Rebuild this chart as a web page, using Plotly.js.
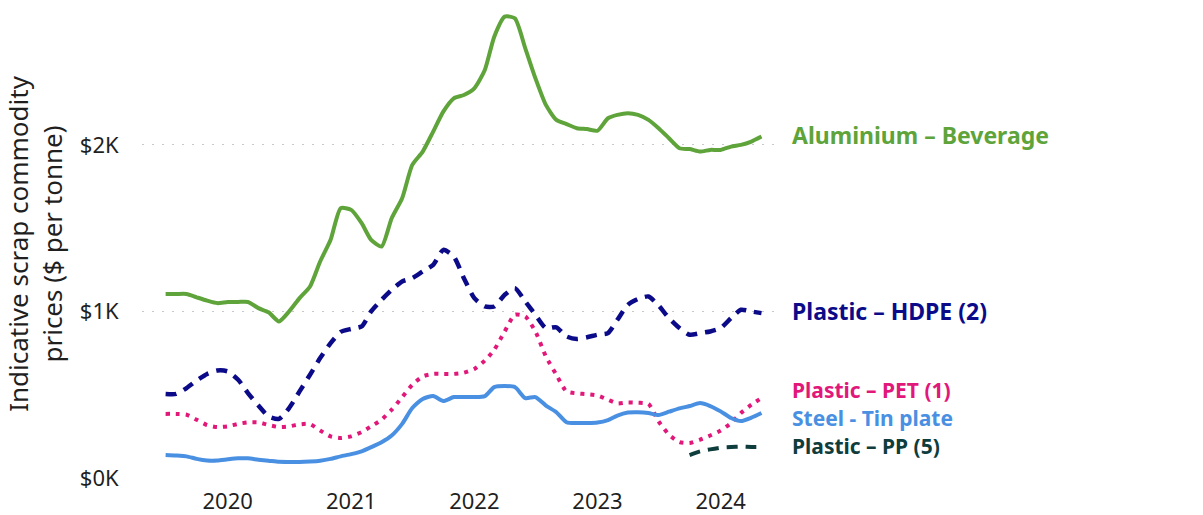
<!DOCTYPE html>
<html>
<head>
<meta charset="utf-8">
<script src="https://cdn.plot.ly/plotly-3.0.1.min.js"></script>
<style>
  html, body { margin: 0; padding: 0; background: #ffffff; }
  #chart { width: 1203px; height: 515px; }
</style>
</head>
<body>
<div id="chart"></div>
<script>
// Monthly observations, July 2019 through May 2024
const firstMonth = [2019, 7];
const monthCount = 59;

const aluminiumBeverage = [
  1105, 1105, 1105, 1085, 1065, 1050,
  1057, 1057, 1057, 1020, 995, 940, 1000, 1080, 1150, 1300, 1430, 1620,
  1610, 1530, 1430, 1390, 1560, 1680, 1880, 1960, 2080, 2200, 2280, 2300,
  2340, 2450, 2650, 2770, 2760, 2580, 2400, 2240, 2150, 2125, 2100, 2095,
  2085, 2160, 2180, 2190, 2180, 2150, 2100, 2040, 1980, 1975, 1960, 1970,
  1970, 1990, 2000, 2020, 2050
];

const plasticHDPE = [
  505, 505, 540, 585, 625, 645,
  640, 590, 510, 435, 370, 355, 420, 520, 620, 720, 810, 877,
  895, 910, 1000, 1070, 1130, 1180, 1200, 1240, 1280, 1370, 1330, 1200,
  1080, 1030, 1030, 1100, 1140, 1060, 980, 900, 905, 850, 835, 845,
  860, 870, 950, 1040, 1075, 1090, 1035, 960, 900, 860, 870, 880,
  900, 960, 1010, 1000, 990
];

const plasticPET = [
  385, 385, 380, 350, 318, 306,
  310, 325, 334, 334, 318, 306, 310, 322, 324, 285, 250, 240,
  250, 276, 310, 350, 410, 485, 560, 610, 625, 625, 625, 632,
  655, 705, 770, 880, 980, 970, 880, 730, 620, 520, 508, 503,
  495, 470, 448, 454, 452, 445, 340, 260, 215, 210, 230, 255,
  285, 330, 390, 440, 480
];

const steelTinPlate = [
  138, 135, 130, 115, 105, 105,
  112, 118, 118, 110, 104, 97, 96, 96, 99, 104, 115, 130,
  143, 160, 185, 215, 255, 325, 420, 475, 492, 462, 486, 486,
  486, 492, 546, 552, 546, 480, 486, 435, 395, 335, 330, 330,
  333, 348, 375, 393, 395, 390, 378, 398, 418, 432, 450, 432,
  400, 360, 342, 362, 390
];

// Polypropylene series begins in October 2023
const ppFirstIndex = 51;
const plasticPP = [138, 160, 172, 182, 186, 188, 186, 186];

const yTicks = [0, 1000, 2000];
const yTickLabels = ['$0K', '$1K', '$2K'];

const seriesNames = [
  'Aluminium – Beverage',
  'Plastic – HDPE (2)',
  'Plastic – PET (1)',
  'Steel - Tin plate',
  'Plastic – PP (5)'
];

// Build the month axis
const months = [];
for (let i = 0; i < monthCount; i++) {
  const total = firstMonth[0] * 12 + (firstMonth[1] - 1) + i;
  const y = Math.floor(total / 12);
  const m = (total % 12) + 1;
  months.push(y + '-' + String(m).padStart(2, '0') + '-01');
}

const colors = {
  aluminium: '#5EA43A',
  hdpe: '#0B0B8A',
  pet: '#E1187A',
  steel: '#4A90E2',
  pp: '#0F3D3D'
};

const FONT = 'Noto Sans, Open Sans, sans-serif';

const traces = [
  { x: months, y: aluminiumBeverage, name: seriesNames[0],
    line: { color: colors.aluminium, width: 4, shape: 'spline', smoothing: 0.6 } },
  { x: months, y: plasticHDPE, name: seriesNames[1],
    line: { color: colors.hdpe, width: 4.5, shape: 'spline', smoothing: 0.6, dash: '11px,8px' } },
  { x: months, y: plasticPET, name: seriesNames[2],
    line: { color: colors.pet, width: 4, shape: 'spline', smoothing: 0.6, dash: '4px,6px' } },
  { x: months, y: steelTinPlate, name: seriesNames[3],
    line: { color: colors.steel, width: 4, shape: 'spline', smoothing: 0.6 } },
  { x: months.slice(ppFirstIndex), y: plasticPP, name: seriesNames[4],
    line: { color: colors.pp, width: 4, shape: 'spline', smoothing: 0.6, dash: '11px,8px' } }
].map(t => Object.assign({ type: 'scatter', mode: 'lines', hoverinfo: 'skip' }, t));

// End-of-line labels
const labelY = [2060, 1000, 528, 360, 192];
const labelSize = [23, 23, 21, 21, 21];
const labelColors = [colors.aluminium, colors.hdpe, colors.pet, colors.steel, colors.pp];
const annotations = seriesNames.map((name, i) => ({
  xref: 'paper', yref: 'y', x: 1.02, y: labelY[i],
  xanchor: 'left', yanchor: 'middle', showarrow: false,
  text: '<b>' + name + '</b>',
  font: { family: FONT, size: labelSize[i], color: labelColors[i] }
}));

const layout = {
  width: 1203, height: 515,
  margin: { l: 142, r: 426, t: 10, b: 37 },
  paper_bgcolor: '#ffffff', plot_bgcolor: '#ffffff',
  showlegend: false,
  font: { family: FONT, color: '#1f1f1f' },
  xaxis: {
    type: 'date',
    range: ['2019-04-22', '2024-06-16'],
    tick0: '2020-01-01', dtick: 'M12', tickformat: '%Y',
    showgrid: false, zeroline: false, showline: false,
    ticks: 'outside', ticklen: 4, tickcolor: 'rgba(0,0,0,0)',
    tickfont: { size: 22, color: '#1f1f1f' }
  },
  yaxis: {
    range: [0, 2810],
    tickvals: yTicks, ticktext: yTickLabels,
    showgrid: true, gridcolor: '#c8c8c8', gridwidth: 1, griddash: '2px,8px',
    zeroline: false, showline: false,
    ticks: 'outside', ticklen: 18, tickcolor: 'rgba(0,0,0,0)',
    tickfont: { size: 22, color: '#1f1f1f' },
    title: {
      text: 'Indicative scrap commodity<br>prices ($ per tonne)',
      font: { size: 26, color: '#1f1f1f' },
      standoff: 10
    }
  },
  annotations: annotations
};

Plotly.newPlot('chart', traces, layout, { displayModeBar: false, staticPlot: true });
</script>
</body>
</html>
